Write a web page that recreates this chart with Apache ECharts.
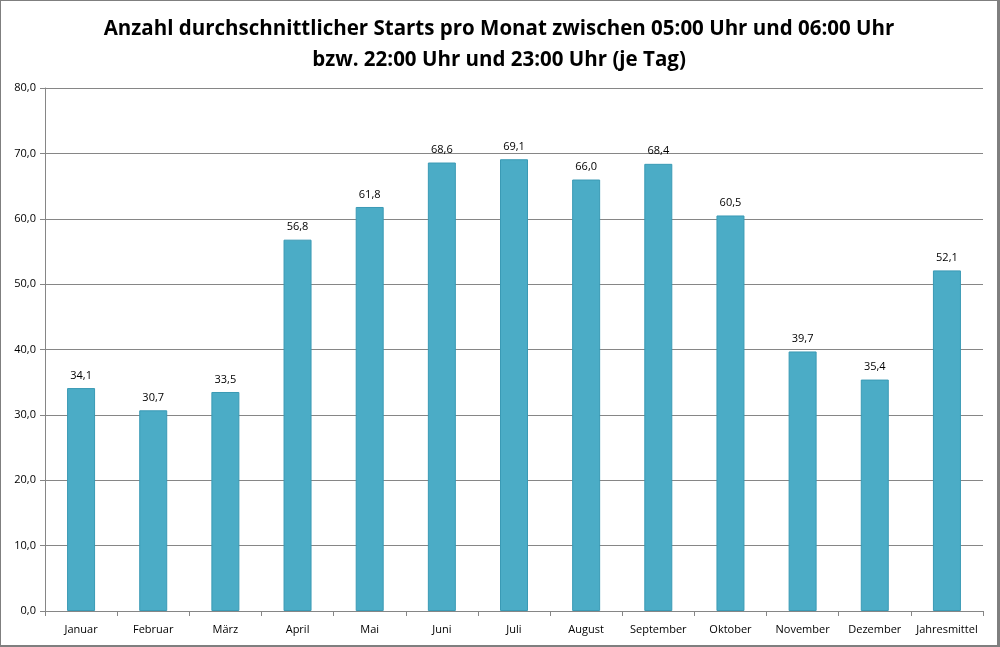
<!DOCTYPE html>
<html><head><meta charset="utf-8">
<script src="https://cdn.jsdelivr.net/npm/echarts@6/dist/echarts.min.js"></script>
<style>html,body{margin:0;padding:0;background:#fff}#c{width:1000px;height:647px;box-sizing:border-box;border:1px solid #7f7f7f;border-right-width:3px;border-bottom-width:2px}</style>
</head><body><div id="c"></div>
<script>
const categories = ["Januar","Februar","März","April","Mai","Juni","Juli","August","September","Oktober","November","Dezember","Jahresmittel"];
const values = [34.1,30.7,33.5,56.8,61.8,68.6,69.1,66.0,68.4,60.5,39.7,35.4,52.1];
const titleLines = ["Anzahl durchschnittlicher Starts pro Monat zwischen 05:00 Uhr und 06:00 Uhr","bzw. 22:00 Uhr und 23:00 Uhr (je Tag)"];
const chart = echarts.init(document.getElementById('c'));
const fmt = v => v.toFixed(1).replace('.', ',');
chart.setOption({
  animation:false,
  title:{text:titleLines.join('\n'),left:'center',top:8,textStyle:{fontFamily:'Liberation Sans Narrow, Open Sans',fontWeight:'bold',fontSize:20.5,lineHeight:31,color:'#000'}},
  grid:{left:44,right:14,top:87,bottom:34},
  xAxis:{type:'category',data:categories,axisLine:{lineStyle:{color:'#868686'}},axisTick:{show:true,length:5,lineStyle:{color:'#868686'}},
    axisLabel:{interval:0,color:'#000',fontSize:11,fontFamily:'Open Sans',margin:13}},
  yAxis:{type:'value',min:0,max:80,interval:10,axisLine:{show:true,lineStyle:{color:'#868686'}},axisTick:{show:true,length:5,lineStyle:{color:'#868686'}},
    splitLine:{lineStyle:{color:'#868686'}},axisLabel:{color:'#000',fontSize:11,fontFamily:'Open Sans',margin:9,formatter:v=>fmt(v)}},
  series:[{type:'bar',data:values,barWidth:28,itemStyle:{color:'#4BACC6',borderColor:'#3A9AB5',borderWidth:1},
    label:{show:true,position:'top',distance:7,color:'#000',fontSize:11,fontFamily:'Open Sans',formatter:p=>fmt(p.value)}}]
});
</script></body></html>
